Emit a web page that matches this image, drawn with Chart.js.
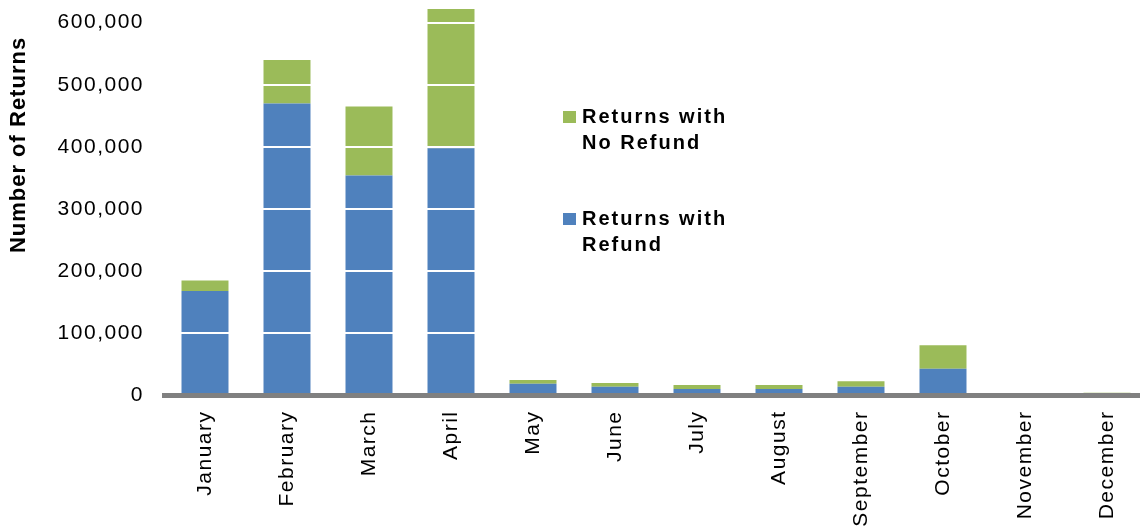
<!DOCTYPE html>
<html>
<head>
<meta charset="utf-8">
<title>Number of Returns by Month</title>
<script src="https://cdn.jsdelivr.net/npm/chart.js@4.4.1/dist/chart.umd.min.js"></script>
<style>
  html, body { margin: 0; padding: 0; background: #fff; overflow: hidden; }
  #wrap { width: 1148px; height: 527px; }
</style>
</head>
<body>
<div id="wrap"><canvas id="returnsChart"></canvas></div>
<script>
// values
const months = ['January', 'February', 'March', 'April', 'May', 'June', 'July',
  'August', 'September', 'October', 'November', 'December'];
const withRefund = [168000, 470000, 354000, 398000, 19000, 14000, 10500, 10500, 14000, 43000, 1500, 2000];
const noRefund = [17000, 70000, 111000, 224000, 6000, 6000, 6500, 6500, 9000, 38000, 2500, 2500];
const yTicks = [0, 100000, 200000, 300000, 400000, 500000, 600000];
const seriesNames = ['Returns with Refund', 'Returns with No Refund'];
const legendLines = [['Returns with', 'Refund'], ['Returns with', 'No Refund']];
const yTitle = 'Number of Returns';

const BLUE = '#4F81BD';
const GREEN = '#9BBB59';
const FONT = "'Liberation Sans', Arial, sans-serif";

// Excel-ish wide text
const spacing = {
  id: 'spacing',
  beforeUpdate(chart) { chart.ctx.letterSpacing = '1.5px'; },
  beforeDraw(chart) { chart.ctx.letterSpacing = '1.5px'; }
};

// y title and the legend placed inside the plot, like the original
const extras = {
  id: 'extras',
  afterDraw(chart) {
    const ctx = chart.ctx;
    ctx.save();
    ctx.fillStyle = '#000';
    ctx.font = 'bold 22px ' + FONT;
    ctx.letterSpacing = '1px';
    ctx.textAlign = 'center';
    ctx.textBaseline = 'middle';
    ctx.translate(19, 145);
    ctx.rotate(-Math.PI / 2);
    ctx.fillText(yTitle, 0, 0);
    ctx.restore();

    const items = [
      { color: GREEN, lines: legendLines[1], y: 117 },
      { color: BLUE, lines: legendLines[0], y: 219 }
    ];
    ctx.save();
    ctx.font = 'bold 20px ' + FONT;
    ctx.letterSpacing = '2px';
    ctx.textBaseline = 'middle';
    items.forEach(it => {
      ctx.fillStyle = it.color;
      ctx.fillRect(563, it.y - 6, 13, 12);
      ctx.fillStyle = '#000';
      it.lines.forEach((t, i) => ctx.fillText(t, 582, it.y + i * 26));
    });
    ctx.restore();
  }
};

new Chart(document.getElementById('returnsChart'), {
  type: 'bar',
  data: {
    labels: months,
    datasets: [
      { label: seriesNames[0], data: withRefund, backgroundColor: BLUE },
      { label: seriesNames[1], data: noRefund, backgroundColor: GREEN }
    ]
  },
  options: {
    responsive: true,
    maintainAspectRatio: false,
    animation: false,
    layout: { padding: { top: 9, left: 0, right: 0, bottom: 0 } },
    categoryPercentage: 1,
    barPercentage: 0.573,
    plugins: {
      legend: { display: false },
      tooltip: { enabled: false }
    },
    scales: {
      x: {
        stacked: true,
        grid: { display: false },
        border: { display: true, color: '#808080', width: 5, z: 2 },
        ticks: {
          color: '#000',
          font: { family: FONT, size: 21 },
          minRotation: 90,
          maxRotation: 90,
          padding: 7,
          autoSkip: false
        },
        afterFit(scale) {
          scale.height = 131.5;
          scale.paddingLeft = 0;
          scale.paddingRight = 0;
        }
      },
      y: {
        stacked: true,
        min: 0,
        max: 622000,
        border: { display: false },
        grid: { color: '#ffffff', lineWidth: 2, drawTicks: false, z: 1 },
        ticks: {
          color: '#000',
          font: { family: FONT, size: 21 },
          padding: 20,
          callback: v => v.toLocaleString('en-US')
        },
        afterBuildTicks(scale) {
          scale.ticks = yTicks.map(v => ({ value: v }));
        },
        afterFit(scale) {
          scale.width = 164;
          scale.paddingTop = 0;
          scale.paddingBottom = 0;
        }
      }
    }
  },
  plugins: [spacing, extras]
});
</script>
</body>
</html>
